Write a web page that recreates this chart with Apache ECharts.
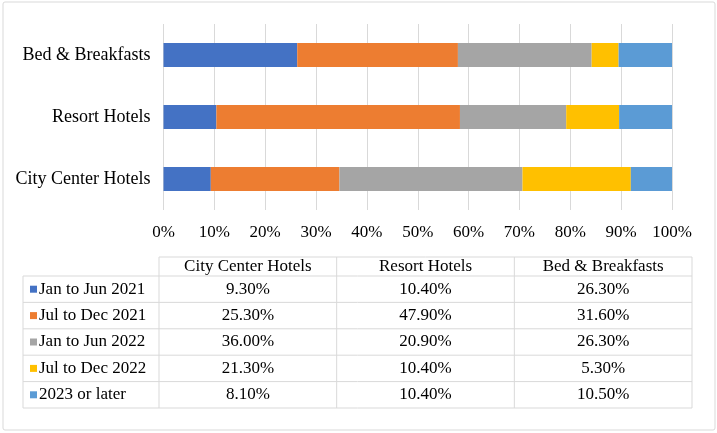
<!DOCTYPE html>
<html>
<head>
<meta charset="utf-8">
<script src="https://cdn.jsdelivr.net/npm/echarts@6/dist/echarts.min.js"></script>
<style>
html,body{margin:0;padding:0;background:#fff;}
#chart{width:717px;height:433px;}
</style>
</head>
<body>
<div id="chart"></div>
<script>
const categories = ['City Center Hotels', 'Resort Hotels', 'Bed & Breakfasts'];
const seriesNames = ['Jan to Jun 2021', 'Jul to Dec 2021', 'Jan to Jun 2022', 'Jul to Dec 2022', '2023 or later'];
const janJun2021 = [9.3, 10.4, 26.3];
const julDec2021 = [25.3, 47.9, 31.6];
const janJun2022 = [36.0, 20.9, 26.3];
const julDec2022 = [21.3, 10.4, 5.3];
const later2023 = [8.1, 10.4, 10.5];
const xTicks = [0, 10, 20, 30, 40, 50, 60, 70, 80, 90, 100];
const colors = ['#4472C4', '#ED7D31', '#A5A5A5', '#FFC000', '#5B9BD5'];

const seriesValues = [janJun2021, julDec2021, janJun2022, julDec2022, later2023];
const FONT = '"Liberation Serif", "Times New Roman", serif';

const chart = echarts.init(document.getElementById('chart'));

// table layout
const tableLeft = 23, firstColRight = 159, tableRight = 692;
const headerTop = 257, headerBottom = 276, tableBottom = 408;
const colW = (tableRight - firstColRight) / categories.length;
const rowH = (tableBottom - headerBottom) / seriesNames.length;
const lineColor = '#d9d9d9';

const graphics = [];
// outer border
graphics.push({type:'rect', shape:{x:3, y:2, width:712, height:428, r:2}, style:{fill:null, stroke:'#d9d9d9', lineWidth:1}, silent:true});
// horizontal lines
graphics.push({type:'line', shape:{x1:firstColRight, y1:headerTop, x2:tableRight, y2:headerTop}, style:{stroke:lineColor, lineWidth:1}});
for (let r = 0; r <= seriesNames.length; r++) {
  const y = headerBottom + r * rowH;
  graphics.push({type:'line', shape:{x1:tableLeft, y1:y, x2:tableRight, y2:y}, style:{stroke:lineColor, lineWidth:1}});
}
// vertical lines
graphics.push({type:'line', shape:{x1:tableLeft, y1:headerBottom, x2:tableLeft, y2:tableBottom}, style:{stroke:lineColor, lineWidth:1}});
for (let c = 0; c <= categories.length; c++) {
  const x = firstColRight + c * colW;
  graphics.push({type:'line', shape:{x1:x, y1:headerTop, x2:x, y2:tableBottom}, style:{stroke:lineColor, lineWidth:1}});
}
// header texts
categories.forEach((cat, c) => {
  graphics.push({type:'text', x:firstColRight + c*colW + colW/2, y:(headerTop+headerBottom)/2,
    style:{text:cat, font:'17px ' + FONT, fill:'#000', textAlign:'center', textVerticalAlign:'middle'}});
});
// rows
seriesNames.forEach((name, r) => {
  const cy = headerBottom + r*rowH + rowH/2;
  graphics.push({type:'rect', shape:{x:30, y:cy-3.5, width:7, height:7}, style:{fill:colors[r]}});
  graphics.push({type:'text', x:39, y:cy, style:{text:name, font:'17px ' + FONT, fill:'#000', textAlign:'left', textVerticalAlign:'middle'}});
  categories.forEach((cat, c) => {
    graphics.push({type:'text', x:firstColRight + c*colW + colW/2, y:cy,
      style:{text:seriesValues[r][c].toFixed(2) + '%', font:'17px ' + FONT, fill:'#000', textAlign:'center', textVerticalAlign:'middle'}});
  });
});

const option = {
  animation: false,
  backgroundColor: '#fff',
  grid: {left: 163.5, right: 45, top: 24, height: 186, containLabel: false},
  xAxis: {
    type: 'value', min: 0, max: 100, interval: 10,
    axisLine: {show: false}, axisTick: {show: false},
    splitLine: {show: true, lineStyle: {color: '#d9d9d9', width: 1}},
    axisLabel: {formatter: v => v + '%', color: '#000', fontFamily: FONT, fontSize: 17, margin: 14}
  },
  yAxis: {
    type: 'category', data: categories,
    axisLine: {show: false}, axisTick: {show: false},
    axisLabel: {color: '#000', fontFamily: FONT, fontSize: 18, margin: 13}
  },
  series: seriesNames.map((name, i) => ({
    name: name, type: 'bar', stack: 'total', barWidth: 24,
    itemStyle: {color: colors[i]},
    data: seriesValues[i]
  })),
  graphic: graphics
};
chart.setOption(option);
</script>
</body>
</html>
